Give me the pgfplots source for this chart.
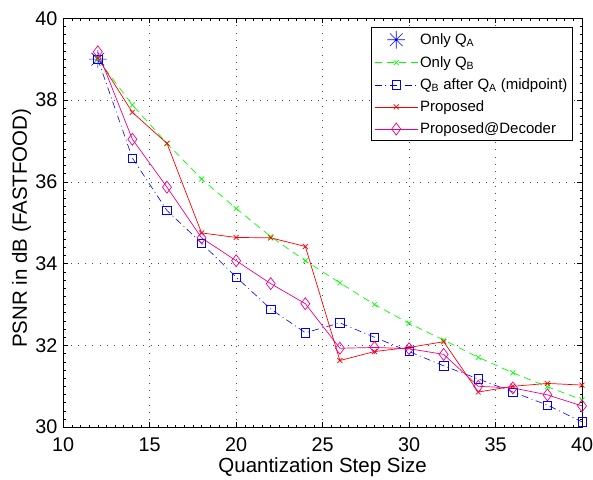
\documentclass[border=0pt]{standalone}
\usepackage{pgfplots}
\pgfplotsset{compat=1.18}
\usepackage{fontspec}
\setmainfont{Liberation Sans}
\pgfdeclareplotmark{mstar}{%
 \pgfpathmoveto{\pgfqpoint{-\pgfplotmarksize}{0pt}}\pgfpathlineto{\pgfqpoint{\pgfplotmarksize}{0pt}}%
 \pgfpathmoveto{\pgfqpoint{0pt}{-\pgfplotmarksize}}\pgfpathlineto{\pgfqpoint{0pt}{\pgfplotmarksize}}%
 \pgfpathmoveto{\pgfqpoint{-.707\pgfplotmarksize}{-.707\pgfplotmarksize}}\pgfpathlineto{\pgfqpoint{.707\pgfplotmarksize}{.707\pgfplotmarksize}}%
 \pgfpathmoveto{\pgfqpoint{-.707\pgfplotmarksize}{.707\pgfplotmarksize}}\pgfpathlineto{\pgfqpoint{.707\pgfplotmarksize}{-.707\pgfplotmarksize}}%
 \pgfusepathqstroke}
\begin{document}
\begin{tikzpicture}
\begin{axis}[
  scale only axis,
  width=519.4bp, height=409.4bp,
  xmin=10, xmax=40, ymin=30, ymax=40,
  xtick={10,15,...,40}, ytick={30,32,...,40},
  minor x tick num=9, minor y tick num=9,
  tick align=inside,
  major tick length=5bp, minor tick length=2.5bp,
  every tick/.style={black, line width=0.5pt},
  axis line style={black, line width=0.6pt},
  grid=major,
  major grid style={black!70, dash pattern=on 0.8bp off 6.5bp, line width=0.6pt},
  tick label style={font=\fontsize{19.8bp}{22bp}\selectfont},
  /pgf/number format/assume math mode=true,
  xticklabel style={anchor=north, inner sep=0pt, yshift=-10.6bp},
  yticklabel style={anchor=east, inner sep=0pt, xshift=-5.6bp},
  xlabel={Quantization Step Size},
  ylabel={PSNR in dB (FASTFOOD)},
  every axis x label/.style={at={(axis description cs:0.5,0)}, anchor=base, yshift=-45.3bp,
     font=\fontsize{20.5bp}{22bp}\selectfont},
  every axis y label/.style={at={(axis description cs:-0.0699,0.4866)}, rotate=90, anchor=base,
     font=\fontsize{20.5bp}{22bp}\selectfont},
  legend style={at={(1,1)}, anchor=north east, xshift=-9.3bp, yshift=-8.7bp,
    draw=black, line width=0.6pt,
    font=\fontsize{15bp}{16bp}\selectfont, row sep=5.8bp, inner xsep=3bp, inner ysep=3.5bp,
    cells={anchor=west}},
  legend image code/.code={\draw[mark repeat=2,mark phase=2] plot coordinates {(0bp,0bp) (21.5bp,0bp) (43bp,0bp)};},
  legend cell align=left,
]
\addplot[blue, mark=mstar, mark size=9bp, only marks, line width=0.6pt] coordinates {(12,39.0)};
\addlegendentry{Only Q$_{\mathrm{A}}$}
\addplot[green, dash pattern=on 7bp off 5bp, mark=x, mark size=3.5bp, line width=0.7pt, mark options={solid}] coordinates {
(12,39.0) (14,37.88) (16,36.94) (18,36.07) (20,35.35) (22,34.66) (24,34.07) (26,33.53) (28,33.0) (30,32.54) (32,32.13) (34,31.71) (36,31.33) (38,30.99) (40,30.67)};
\addlegendentry{Only Q$_{\mathrm{B}}$}
\addplot[blue, dash pattern=on 7bp off 3.5bp on 1bp off 3.5bp, mark=square, mark size=4.2bp, line width=0.6pt, mark options={solid}] coordinates {
(12,39.0) (14,36.58) (16,35.3) (18,34.5) (20,33.67) (22,32.89) (24,32.31) (26,32.55) (28,32.2) (30,31.85) (32,31.5) (34,31.18) (36,30.86) (38,30.54) (40,30.13)};
\addlegendentry{Q$_{\mathrm{B}}$ after Q$_{\mathrm{A}}$ (midpoint)}
\addplot[red, mark=x, mark size=3.5bp, line width=0.7pt] coordinates {
(12,39.03) (14,37.70) (16,36.94) (18,34.75) (20,34.64) (22,34.63) (24,34.42) (26,31.63) (28,31.85) (30,31.95) (32,32.09) (34,30.86) (36,31.0) (38,31.07) (40,31.03)};
\addlegendentry{Proposed}
\addplot[magenta, mark=diamond, mark size=6bp, line width=0.7pt] coordinates {
(12,39.18) (14,37.04) (16,35.87) (18,34.63) (20,34.07) (22,33.51) (24,33.02) (26,31.93) (28,31.95) (30,31.92) (32,31.78) (34,31.0) (36,30.96) (38,30.79) (40,30.52)};
\addlegendentry{Proposed@Decoder}
\end{axis}
\path (current axis.south west) ++(-63.3bp,-51.3bp);
\path (current axis.north east) ++(10.3bp,18.3bp);
\end{tikzpicture}
\end{document}
